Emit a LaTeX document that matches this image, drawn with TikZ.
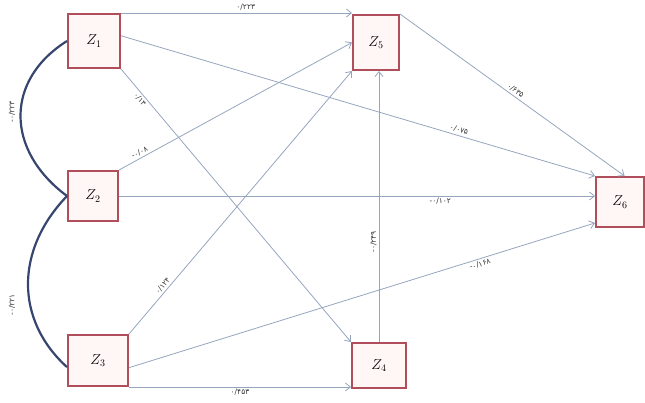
\documentclass[tikz,border=0pt]{standalone}
\usepackage{fontspec}
\newfontfamily\pfont{DejaVu Sans}
\usetikzlibrary{arrows.meta,calc}
\definecolor{boxc}{RGB}{176,78,92}
\definecolor{boxf}{RGB}{255,246,246}
\definecolor{linec}{RGB}{150,165,190}
\definecolor{curvec}{RGB}{55,70,110}
\begin{document}
\begin{tikzpicture}[x=1pt,y=-1pt,
  zbox/.style={draw=boxc,line width=2pt,fill=boxf,inner sep=0pt,font=\Large},
  conn/.style={draw=linec,line width=0.8pt,-{Straight Barb[length=5pt,width=8pt]}},
  corr/.style={draw=curvec,line width=2.2pt},
  lab/.style={font=\pfont\fontsize{7.5}{8}\selectfont,text=black!80,inner sep=2pt,sloped}]
\useasboundingbox (0,0) rectangle (645,402);
\node[zbox,minimum width=52pt,minimum height=54pt] (z1) at (94,41) {$Z_1$};
\node[zbox,minimum width=46pt,minimum height=55pt] (z5) at (376,42.5) {$Z_5$};
\node[zbox,minimum width=50pt,minimum height=50pt] (z2) at (93,196) {$Z_2$};
\node[zbox,minimum width=48pt,minimum height=50pt] (z6) at (620,202) {$Z_6$};
\node[zbox,minimum width=60pt,minimum height=51pt] (z3) at (98,360.5) {$Z_3$};
\node[zbox,minimum width=54pt,minimum height=45pt] (z4) at (379,365.5) {$Z_4$};
% connectors
\draw[conn] (z1.north east) -- (z1.north east -| z5.west) node[lab,pos=0.54,above] {۰/۲۲۳};
\draw[conn] (z1.11) -- (z6.north west) node[lab,pos=0.71,above] {۰/۰۷۵};
\draw[conn] (z1.south east) -- (z4.north west) node[lab,pos=0.1,below] {۰/۱۳};
\draw[conn] (z2.north east) -- (z5.west) node[lab,pos=0.1,above] {-۰/۰۸};
\draw[conn] (z2.east) -- (z2.east -| z6.west) node[lab,pos=0.675,below] {-۰/۱۰۲};
\draw[conn] (z3.north east) -- (z5.south west) node[lab,pos=0.17,above] {۰/۱۲۴};
\draw[conn] (z3.-13) -- (z6.220) node[lab,pos=0.75,below] {-۰/۱۶۸};
\draw[conn] (z3.south east) -- (z3.south east -| z4.west) node[lab,pos=0.5,below] {۰/۴۵۳};
\draw[conn] (z4.north) -- (z4.north |- z5.south) node[lab,pos=0.37,above] {-۰/۲۴۹};
\draw[conn] (z5.north east) -- (z6.80) node[lab,pos=0.5,above] {۰/۶۳۵};
% correlations
\draw[corr] (z1.west) .. controls (5,80) and (5,150) .. (z2.west);
\draw[corr] (z2.west) .. controls (15,250) and (15,320) .. (z3.192);
\node[lab,rotate=90] (c1) at (12,112) {-۰/۲۲۳};
\node[lab,rotate=90] (c2) at (12,305) {-۰/۲۲۱};
\end{tikzpicture}
\end{document}
